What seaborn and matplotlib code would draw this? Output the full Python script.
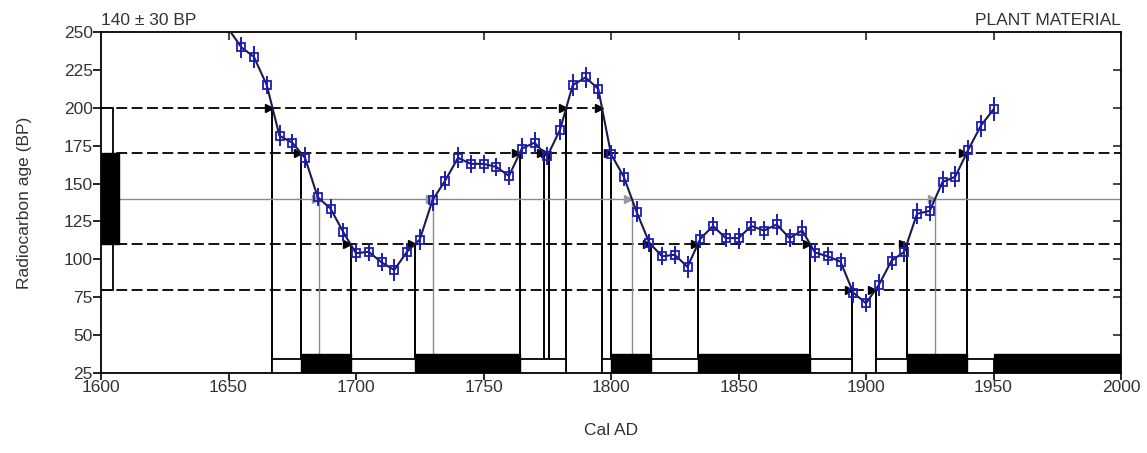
import numpy as np
import matplotlib
matplotlib.use("Agg")
import matplotlib.pyplot as plt
from matplotlib.patches import Rectangle
import seaborn as sns

# calibration curve (cal AD / 14C age BP)
years = [1650, 1655, 1660, 1665, 1670, 1675, 1680, 1685, 1690, 1695,
         1700, 1705, 1710, 1715, 1720, 1725, 1730, 1735, 1740, 1745,
         1750, 1755, 1760, 1765, 1770, 1775, 1780, 1785, 1790, 1795,
         1800, 1805, 1810, 1815, 1820, 1825, 1830, 1835, 1840, 1845,
         1850, 1855, 1860, 1865, 1870, 1875, 1880, 1885, 1890, 1895,
         1900, 1905, 1910, 1915, 1920, 1925, 1930, 1935, 1940, 1945,
         1950]
ages = [252, 240, 233.5, 215, 181.5, 177, 167, 141, 133.5, 118,
        104, 105, 98, 93, 105, 113, 139, 152, 167, 163,
        163, 161, 155, 173, 177, 168, 185.5, 215, 220, 212.5,
        169.5, 154.5, 131.5, 111, 102, 103, 95, 113.5, 122, 114,
        114, 122, 119, 123, 114, 119, 104.5, 102, 98.5, 78,
        71, 83, 99, 105, 130, 132, 151, 154.5, 172, 188,
        199]
errs = [7, 7, 7, 6, 7, 6, 7, 6, 6, 6,
        6, 6, 6, 7, 6, 7, 7, 6, 7, 6,
        6, 6, 6, 7, 7, 6, 7, 7, 7, 7,
        6, 6, 7, 6, 6, 6, 7, 6, 6, 6,
        7, 6, 6, 7, 6, 7, 6, 6, 6, 7,
        6, 7, 6, 7, 7, 7, 7, 7, 7, 7,
        8]

sample_age = 140
sample_err = 30
material = "PLANT MATERIAL"
modern_range = (1950, 2000)

x_ticks = [1600, 1650, 1700, 1750, 1800, 1850, 1900, 1950, 2000]
y_ticks = [25, 50, 75, 100, 125, 150, 175, 200, 225, 250]

sns.set_style("ticks")
plt.rcParams['font.family'] = ['Liberation Sans', 'DejaVu Sans']
txt = "#333333"


def crossings(level):
    out = []
    for i in range(len(years) - 1):
        a = ages[i] - level
        b = ages[i + 1] - level
        if a * b < 0:
            out.append(years[i] + (years[i + 1] - years[i]) * a / (a - b))
    return out


def ranges(lo, hi, min_len=0.0):
    xs = np.linspace(years[0], years[-1], 30001)
    ys = np.interp(xs, years, ages)
    inside = (ys >= lo) & (ys <= hi)
    d = np.diff(inside.astype(int))
    starts = list(xs[1:][d == 1])
    ends = list(xs[1:][d == -1])
    if inside[0]:
        starts.insert(0, xs[0])
    if inside[-1]:
        ends.append(xs[-1])
    return [(s, e) for s, e in zip(starts, ends) if e - s >= min_len]


fig = plt.figure(figsize=(11.47, 4.53), dpi=100)
ax = fig.add_axes([101 / 1147, 1 - 373 / 453, 1020 / 1147, 341 / 453])

lo1, hi1 = sample_age - sample_err, sample_age + sample_err
lo2, hi2 = sample_age - 2 * sample_err, sample_age + 2 * sample_err

# horizontal levels
for lev in [hi2, hi1, lo1, lo2]:
    xc = crossings(lev)
    x_end = xc[-1] if lev == hi2 else 2000
    ax.plot([1600, x_end], [lev, lev], color="black", lw=1.3,
            dashes=(6, 2.5), zorder=1)
    for x in xc:
        ax.plot([x, x], [lev, 25], color="black", lw=1.4, zorder=1)
        ax.plot(x - 1.3, lev, marker=">", color="black", ms=6, zorder=4)

ax.plot([1600, 2000], [sample_age, sample_age], color="#8a8a8a", lw=1.0, zorder=1)
for x in crossings(sample_age):
    ax.plot([x, x], [sample_age, 25], color="#8a8a8a", lw=1.0, zorder=1)
    ax.plot(x - 1.3, sample_age, marker=">", color="#9a9a9a", ms=6, zorder=4)

# sample bars on the age axis
ax.add_patch(Rectangle((1600, lo2), 4.7, hi2 - lo2, fc="white", ec="black",
                       lw=1.3, zorder=3))
ax.add_patch(Rectangle((1600, lo1), 7, hi1 - lo1, fc="black", ec="black",
                       lw=1, zorder=3))

# calendar ranges at the bottom
for s, e in ranges(lo2, hi2):
    ax.add_patch(Rectangle((s, 25), e - s, 9.5, fc="white", ec="black",
                           lw=1.3, zorder=3))
for s, e in ranges(lo1, hi1, min_len=3) + [modern_range]:
    ax.add_patch(Rectangle((s, 25), e - s, 12.5, fc="black", ec="black",
                           lw=1, zorder=3))

# curve
sns.lineplot(x=years, y=ages, ax=ax, color="#1c1c4a", lw=1.5,
             estimator=None, zorder=5)
ax.errorbar(years[1:], ages[1:], yerr=errs[1:], fmt="s", ms=6, mfc="none",
            mec="#1c1cb4", mew=1.3, ecolor="#1c1cb4", elinewidth=1.4,
            capsize=0, zorder=6)

ax.set_xlim(1600, 2000)
ax.set_ylim(25, 250)
ax.set_xticks(x_ticks)
ax.set_yticks(y_ticks)
for sp in ax.spines.values():
    sp.set_visible(True)
    sp.set_linewidth(1.3)
    sp.set_color("black")
ax.tick_params(axis="both", which="both", labelsize=12.5, labelcolor=txt,
               width=1.2, color="black")
ax.tick_params(axis="y", direction="out", length=6, pad=0)
ax.tick_params(axis="x", direction="out", length=5, pad=0)
sec = ax.secondary_xaxis("top")
sec.set_xticks(x_ticks[1:-1])
sec.tick_params(direction="in", length=6, width=1.2, labeltop=False)
sec.spines["top"].set_visible(False)
secy = ax.secondary_yaxis("right")
secy.set_yticks(y_ticks[1:-1])
secy.tick_params(direction="in", length=6, width=1.2, labelright=False)
secy.spines["right"].set_visible(False)
ax.tick_params(top=False, right=False)

ax.set_xlabel("Cal AD", fontsize=12.5, color=txt, labelpad=20)
ax.set_ylabel("Radiocarbon age (BP)", fontsize=12.5, color=txt, labelpad=23)

ax.text(0.0, 1.012, f"{sample_age} \u00b1 {sample_err} BP", transform=ax.transAxes,
        ha="left", va="bottom", fontsize=12.5, color=txt)
ax.text(1.0, 1.012, material, transform=ax.transAxes, ha="right", va="bottom",
        fontsize=12.5, color=txt)

fig.savefig("out.png", dpi=100)
